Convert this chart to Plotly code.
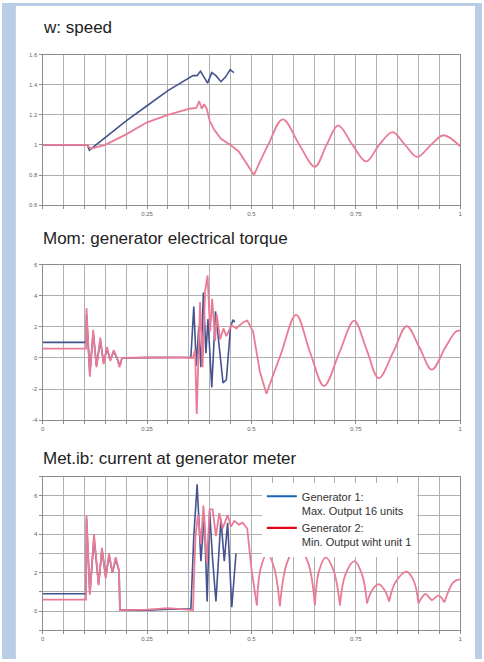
import plotly.graph_objects as go

# ---------------- data ----------------
# Panel 1: speed
speed_t_g1 = [0, 0.107, 0.112, 0.15, 0.2, 0.25, 0.3, 0.36, 0.37, 0.378, 0.386, 0.395, 0.405, 0.415, 0.427, 0.438, 0.449, 0.458]
speed_g1 = [1.0, 1.0, 0.965, 1.05, 1.16, 1.26, 1.36, 1.46, 1.46, 1.49, 1.45, 1.41, 1.48, 1.46, 1.42, 1.45, 1.50, 1.48]
speed_t_g2 = [0, 0.107, 0.115, 0.15, 0.2, 0.25, 0.3, 0.352, 0.368, 0.375, 0.381, 0.387, 0.393, 0.4, 0.411, 0.427, 0.45, 0.47, 0.49, 0.506,
              0.54, 0.575, 0.615, 0.652, 0.68, 0.708, 0.742, 0.775, 0.806, 0.838, 0.868, 0.897, 0.93, 0.96, 1.0]
speed_g2 = [1.0, 1.0, 0.975, 1.0, 1.07, 1.15, 1.2, 1.24, 1.245, 1.29, 1.24, 1.27, 1.24, 1.16, 1.1, 1.04, 1.0, 0.955, 0.87, 0.80,
            1.0, 1.17, 1.0, 0.855, 1.0, 1.13, 1.0, 0.89, 1.0, 1.085, 1.0, 0.92, 1.0, 1.064, 0.99]
speed_smooth_from = 0.506

# Panel 2: generator electrical torque
torque_t_g1 = [0, 0.104, 0.105, 0.113, 0.121, 0.129, 0.138, 0.146, 0.154, 0.162, 0.170, 0.178, 0.185, 0.19, 0.25, 0.3, 0.355,
               0.362, 0.368, 0.374, 0.379, 0.385, 0.391, 0.396, 0.405, 0.414, 0.42, 0.432, 0.44, 0.45, 0.456, 0.46]
torque_g1 = [1.0, 1.0, 2.8, -1.0, 1.6, -0.5, 1.1, -0.3, 0.6, -0.1, 0.4, 0.0, -0.5, 0.0, 0.02, 0.05, 0.05,
             3.3, -0.5, 2.0, -0.6, 4.2, 0.3, 2.5, -1.9, 3.0, 1.5, -1.6, -1.4, 2.0, 2.45, 2.3]
torque_t_g2 = [0, 0.104, 0.105, 0.113, 0.121, 0.129, 0.138, 0.146, 0.154, 0.162, 0.170, 0.178, 0.184, 0.19, 0.25, 0.30, 0.33, 0.36,
               0.365, 0.369, 0.377, 0.383, 0.389, 0.395, 0.401, 0.406, 0.413, 0.417, 0.425, 0.433, 0.44, 0.452, 0.464, 0.48, 0.49,
               0.504, 0.52, 0.536, 0.57, 0.607, 0.64, 0.674, 0.71, 0.746, 0.775, 0.805, 0.84, 0.872, 0.902, 0.932, 0.965, 0.99, 1.0]
torque_g2 = [0.6, 0.6, 3.2, -1.2, 1.8, -0.6, 1.3, -0.4, 0.7, -0.2, 0.5, 0.0, -0.6, 0.0, 0.03, 0.05, 0.03, 0.0,
             0.5, -3.6, 3.6, -0.6, 4.3, 5.3, 1.7, 3.8, 1.1, 2.8, 1.2, 1.9, 1.4, 2.1, 1.9, 2.3, 2.4,
             1.7, -0.85, -2.3, 0.2, 2.77, 0.4, -1.8, 0.3, 2.4, 0.6, -1.3, 0.4, 2.05, 0.7, -0.75, 0.7, 1.7, 1.75]
torque_smooth_from = 0.536

# Panel 3: current at generator meter
current_t_g1 = [0, 0.104, 0.105, 0.113, 0.123, 0.134, 0.142, 0.151, 0.159, 0.167, 0.175, 0.183, 0.185, 0.19, 0.25, 0.30, 0.355,
                0.362, 0.37, 0.379, 0.387, 0.394, 0.40, 0.407, 0.415, 0.427, 0.435, 0.443, 0.453, 0.463]
current_g1 = [0.9, 0.9, 4.8, 0.9, 3.8, 1.4, 3.2, 1.8, 2.9, 2.0, 2.7, 2.1, 0.05, 0.05, 0.05, 0.1, 0.1,
              3.9, 6.6, 2.6, 5.0, 0.5, 5.2, 2.7, 0.5, 4.8, 2.6, 4.6, 0.2, 3.0]
current_t_g2 = [0, 0.104, 0.105, 0.113, 0.123, 0.134, 0.142, 0.151, 0.159, 0.167, 0.175, 0.183, 0.185, 0.19, 0.25, 0.3, 0.33, 0.36,
                0.366, 0.372, 0.379, 0.385, 0.393, 0.4, 0.407, 0.415, 0.423, 0.431, 0.443, 0.451, 0.459, 0.47, 0.479, 0.49, 0.50, 0.513,
                0.522, 0.538, 0.555, 0.568,
                0.585, 0.61, 0.636, 0.652,
                0.662, 0.678, 0.697, 0.712,
                0.725, 0.747, 0.765, 0.777,
                0.788, 0.805, 0.82, 0.83,
                0.845, 0.872, 0.89, 0.9,
                0.908, 0.917, 0.926, 0.933,
                0.94, 0.948, 0.955, 0.962,
                0.98, 0.99, 1.0]
current_g2 = [0.6, 0.6, 5.0, 0.85, 4.0, 1.35, 3.3, 1.7, 3.0, 2.0, 2.8, 2.1, 0.05, 0.05, 0.08, 0.15, 0.1, 0.05,
              3.9, 5.0, 3.5, 5.5, 2.5, 5.3, 5.3, 3.9, 5.1, 4.3, 5.0, 4.4, 4.7, 4.5, 4.6, 4.3, 2.2, 0.3,
              2.2, 3.0, 2.2, 0.25,
              2.5, 3.4, 2.5, 0.3,
              2.1, 2.8, 2.1, 0.3,
              1.9, 2.6, 1.9, 0.4,
              1.05, 1.4, 1.05, 0.5,
              1.5, 2.05, 1.5, 0.4,
              0.7, 0.9, 0.7, 0.55,
              0.7, 0.8, 0.7, 0.45,
              1.4, 1.6, 1.65]
current_smooth_from = 0.513

titles = ["w: speed", "Mom: generator electrical torque", "Met.ib: current at generator meter"]
legend_names = ["Generator 1:<br>Max. Output 16 units", "Generator 2:<br>Min. Output wiht unit 1"]

x_tickvals = [round(i * 0.05, 2) for i in range(21)]
x_labels = {0: "0", 0.25: "0.25", 0.5: "0.5", 0.75: "0.75", 1: "1"}

# ---------------- style ----------------
W, H = 484, 662
BLUE_BG = "#b9cde6"
C1 = "#44528e"
C2 = "#ea7b96"
LEG1 = "#1466b4"
LEG2 = "#e3071d"
GRID = "#b0b0b0"
BORDER = "#8c8c8c"
FONT = "Liberation Sans, Arial, sans-serif"


def py(p):
    return 1 - p / H


def split_at_minima(ts, vs):
    """split a sequence into arch segments at its local minima"""
    segs, cur = [], [(ts[0], vs[0])]
    for i in range(1, len(ts)):
        cur.append((ts[i], vs[i]))
        if 0 < i < len(ts) - 1 and vs[i] < vs[i - 1] and vs[i] < vs[i + 1]:
            segs.append(cur)
            cur = [(ts[i], vs[i])]
    segs.append(cur)
    return segs


fig = go.Figure()

panels = [
    ("x", "y", speed_t_g1, speed_g1, speed_t_g2, speed_g2, speed_smooth_from, False),
    ("x2", "y2", torque_t_g1, torque_g1, torque_t_g2, torque_g2, torque_smooth_from, False),
    ("x3", "y3", current_t_g1, current_g1, current_t_g2, current_g2, current_smooth_from, True),
]

for xa, ya, t1, v1, t2, v2, sf, arches in panels:
    fig.add_trace(go.Scatter(x=t1, y=v1, xaxis=xa, yaxis=ya, mode="lines",
                             line=dict(color=C1, width=1.6), showlegend=False, hoverinfo="skip"))
    lin = [(t, v) for t, v in zip(t2, v2) if t <= sf]
    smo = [(t, v) for t, v in zip(t2, v2) if t >= sf]
    fig.add_trace(go.Scatter(x=[p[0] for p in lin], y=[p[1] for p in lin], xaxis=xa, yaxis=ya, mode="lines",
                             line=dict(color=C2, width=1.8), showlegend=False, hoverinfo="skip"))
    segs = split_at_minima([p[0] for p in smo], [p[1] for p in smo]) if arches else [smo]
    for seg in segs:
        fig.add_trace(go.Scatter(x=[p[0] for p in seg], y=[p[1] for p in seg], xaxis=xa, yaxis=ya, mode="lines",
                                 line=dict(color=C2, width=1.8, shape="spline", smoothing=1.0),
                                 showlegend=False, hoverinfo="skip"))

# legend entries
fig.add_trace(go.Scatter(x=[None], y=[None], xaxis="x3", yaxis="y3", mode="lines",
                         line=dict(color=LEG1, width=2.2), name=legend_names[0]))
fig.add_trace(go.Scatter(x=[None], y=[None], xaxis="x3", yaxis="y3", mode="lines",
                         line=dict(color=LEG2, width=2.2), name=legend_names[1]))

x_dom = [41 / W, 462 / W]
y_doms = [[py(204), py(52)], [py(421), py(264)], [py(633), py(478)]]
y_ranges = [[0.6, 1.6], [-4, 6], [-1, 7]]
y_ticks = [[0.6, 0.8, 1.0, 1.2, 1.4, 1.6], [-4, -2, 0, 2, 4, 6], [-1, 0, 1, 2, 3, 4, 5, 6, 7]]
y_text = [["0.6", "0.8", "1", "1.2", "1.4", "1.6"], ["-4", "-2", "0", "2", "4", "6"],
          ["", "0", "", "2", "", "4", "", "6", ""]]

axis_common = dict(showline=True, mirror=True, linecolor=BORDER, linewidth=1, showgrid=True,
                   gridcolor=GRID, gridwidth=1, zeroline=False, ticks="outside", ticklen=3,
                   tickcolor=BORDER, tickfont=dict(family=FONT, size=6, color="#666"))

layout = {}
for i in range(3):
    s = "" if i == 0 else str(i + 1)
    xt = [x_labels.get(v, "") for v in x_tickvals]
    if i == 0:
        xt = ["" if v == 0 else x for v, x in zip(x_tickvals, xt)]
    layout["xaxis" + s] = dict(domain=x_dom, range=[0, 1], anchor="y" + s, tickmode="array",
                               tickvals=x_tickvals, ticktext=xt, **axis_common)
    layout["yaxis" + s] = dict(domain=y_doms[i], range=y_ranges[i], anchor="x" + s, tickmode="array",
                               tickvals=y_ticks[i], ticktext=y_text[i], **axis_common)

fig.update_layout(**layout)

title_y = [25, 238, 460]
annotations = [dict(text=titles[i], x=39 / W, y=py(title_y[i]), xref="paper", yref="paper",
                    xanchor="left", yanchor="middle", showarrow=False,
                    font=dict(family=FONT, size=17, color="#222")) for i in range(3)]

strip = dict(type="rect", xref="paper", yref="paper", fillcolor=BLUE_BG, line=dict(width=0), layer="above")
fig.update_layout(
    width=W, height=H,
    margin=dict(l=0, r=0, t=0, b=0),
    paper_bgcolor="white",
    plot_bgcolor="white",
    annotations=annotations,
    shapes=[dict(strip, x0=0, x1=14 / W, y0=0, y1=1),
            dict(strip, x0=477 / W, x1=1, y0=0, y1=1),
            dict(strip, x0=0, x1=1, y0=py(3), y1=1)],
    legend=dict(x=262 / W, y=py(484), xanchor="left", yanchor="top", bgcolor="white",
                font=dict(family=FONT, size=11, color="#333"), valign="top",
                itemwidth=30, tracegroupgap=0),
)

fig.write_html("out.html", config={"displayModeBar": False},
               post_script="document.body.style.margin='0';document.body.style.overflow='hidden';"
                           "document.body.style.background='white';")
